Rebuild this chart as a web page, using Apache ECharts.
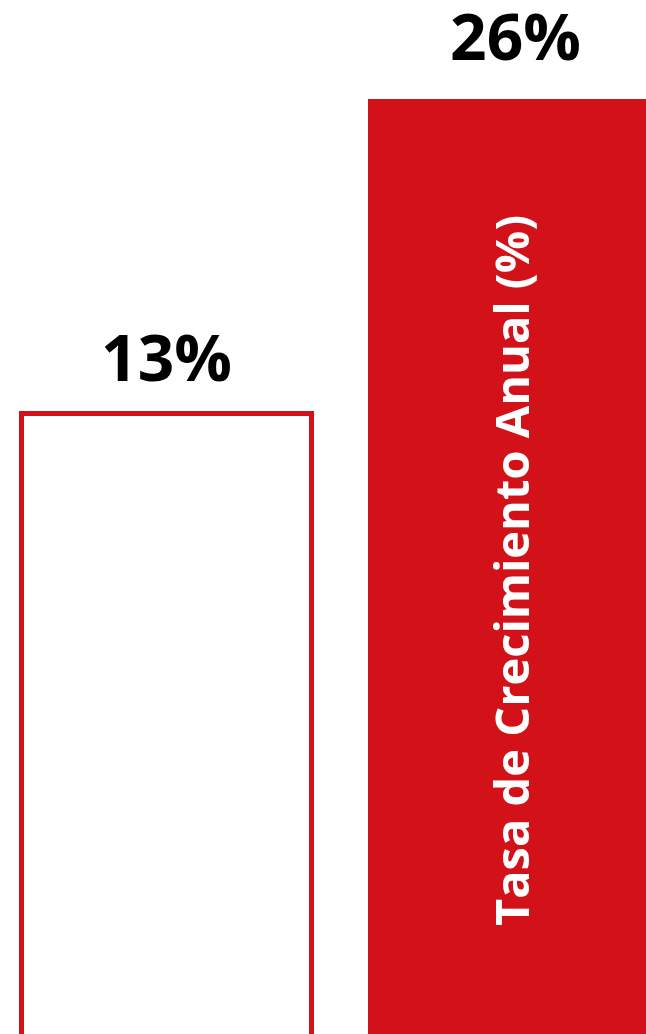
<!DOCTYPE html>
<html>
<head>
<meta charset="utf-8">
<script src="https://cdn.jsdelivr.net/npm/echarts@6/dist/echarts.min.js"></script>
<style>
  html, body { margin: 0; padding: 0; background: #ffffff; }
  #chart { width: 646px; height: 1034px; }
</style>
</head>
<body>
<div id="chart"></div>
<script>
// Annual growth rate, two periods
const categories = ['Periodo anterior', 'Periodo actual'];
const growthRates = [13, 26];
const seriesTitle = 'Tasa de Crecimiento Anual (%)';

const RED = '#D31118';
const FONT = '"Open Sans", "Noto Sans", sans-serif';

const chart = echarts.init(document.getElementById('chart'), null, { renderer: 'canvas' });

// first bar is an outline, second one is filled; value labels sit a bit apart
const barStyles = [
  { color: '#ffffff', borderColor: RED, borderWidth: 5 },
  { color: RED, borderColor: RED, borderWidth: 5 }
];
const labelGaps = [16, 25];

// bars rise from the bottom of the axis, which runs past the lower edge
const AXIS_MIN = -14;
const AXIS_MAX = 26;

chart.setOption({
  animation: false,
  backgroundColor: '#ffffff',
  grid: {
    left: -8, right: -44, top: 99, bottom: -25,
    containLabel: false,
    outerBoundsMode: 'none'
  },
  xAxis: {
    type: 'category',
    data: categories,
    show: false
  },
  yAxis: {
    type: 'value',
    min: AXIS_MIN,
    max: AXIS_MAX,
    startValue: AXIS_MIN,
    show: false,
    splitLine: { show: false }
  },
  series: [
    {
      name: seriesTitle,
      type: 'bar',
      barWidth: 295,
      data: growthRates.map((v, i) => ({
        value: v,
        itemStyle: barStyles[i],
        label: { distance: labelGaps[i] }
      })),
      label: {
        show: true,
        position: 'top',
        formatter: '{c}%',
        color: '#000000',
        fontFamily: FONT,
        fontWeight: 'bold',
        fontSize: 64
      }
    },
    {
      // title written vertically inside the filled bar
      name: 'titulo',
      type: 'bar',
      barWidth: 295,
      barGap: '-100%',
      silent: true,
      itemStyle: { color: 'rgba(0,0,0,0)' },
      data: growthRates.map((v, i) => ({
        value: v,
        label: { show: i === growthRates.length - 1 }
      })),
      label: {
        show: false,
        position: 'insideBottom',
        distance: 133,
        rotate: 90,
        align: 'left',
        verticalAlign: 'middle',
        formatter: seriesTitle,
        color: '#ffffff',
        fontFamily: FONT,
        fontWeight: 'bold',
        fontSize: 47
      }
    }
  ]
});
</script>
</body>
</html>
